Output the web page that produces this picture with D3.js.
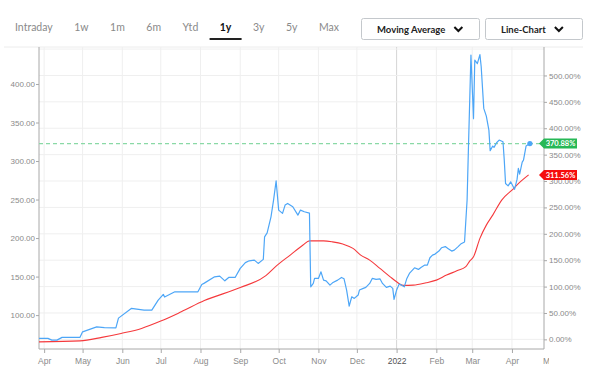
<!DOCTYPE html>
<html>
<head>
<meta charset="utf-8">
<script src="https://cdn.jsdelivr.net/npm/d3@7"></script>
<style>
  body { margin: 0; background: #fff; }
  svg { display: block; font-family: Lato, "Open Sans", sans-serif; }
</style>
</head>
<body>
<div id="chart"></div>
<script>
const ranges = ['Intraday', '1w', '1m', '6m', 'Ytd', '1y', '3y', '5y', 'Max'];
const activeRange = '1y';
const menus = ['Moving Average', 'Line-Chart'];

const priceDates = [
  '2021-03-28', '2021-04-04', '2021-04-07', '2021-04-11', '2021-04-15', '2021-04-29',
  '2021-05-01', '2021-05-12', '2021-05-18', '2021-05-27', '2021-05-29', '2021-06-08',
  '2021-06-18', '2021-06-24', '2021-06-29', '2021-07-03', '2021-07-04', '2021-07-12',
  '2021-07-30', '2021-08-02', '2021-08-04', '2021-08-12', '2021-08-16', '2021-08-20',
  '2021-08-23', '2021-08-28', '2021-09-01', '2021-09-05', '2021-09-08', '2021-09-12',
  '2021-09-15', '2021-09-19', '2021-09-20', '2021-09-22', '2021-09-25', '2021-09-27',
  '2021-09-29', '2021-10-01', '2021-10-04', '2021-10-06', '2021-10-08', '2021-10-12',
  '2021-10-16', '2021-10-18', '2021-10-21', '2021-10-25', '2021-10-26', '2021-10-28',
  '2021-10-29', '2021-11-01', '2021-11-03', '2021-11-05', '2021-11-07', '2021-11-10',
  '2021-11-12', '2021-11-16', '2021-11-19', '2021-11-21', '2021-11-23', '2021-11-25',
  '2021-11-27', '2021-11-29', '2021-12-02', '2021-12-03', '2021-12-06', '2021-12-08',
  '2021-12-11', '2021-12-13', '2021-12-16', '2021-12-19', '2021-12-21', '2021-12-24',
  '2021-12-27', '2021-12-29', '2021-12-30', '2022-01-01', '2022-01-03', '2022-01-05',
  '2022-01-07', '2022-01-09', '2022-01-11', '2022-01-15', '2022-01-18', '2022-01-20',
  '2022-01-23', '2022-01-25', '2022-01-27', '2022-01-29', '2022-01-31', '2022-02-03',
  '2022-02-05', '2022-02-08', '2022-02-10', '2022-02-13', '2022-02-15', '2022-02-18',
  '2022-02-20', '2022-02-23', '2022-02-25', '2022-02-26', '2022-02-28', '2022-03-02',
  '2022-03-03', '2022-03-05', '2022-03-07', '2022-03-08', '2022-03-10', '2022-03-12',
  '2022-03-14', '2022-03-15', '2022-03-17', '2022-03-18', '2022-03-20', '2022-03-22',
  '2022-03-25', '2022-03-26', '2022-03-27', '2022-03-29', '2022-03-31', '2022-04-03',
  '2022-04-05', '2022-04-06', '2022-04-07', '2022-04-09', '2022-04-10', '2022-04-12',
  '2022-04-15'
];
const priceValues = [
  69.8, 69.8, 67.5, 67.5, 71.1, 71.1,
  78.3, 84.8, 83.8, 83.5, 96.1, 108.7,
  106.5, 106.5, 119.5, 126.9, 123.4, 130.2,
  130.2, 139.8, 141.5, 149.7, 150.6, 144.5,
  148.9, 148.9, 160.6, 168.1, 170.5, 171.4,
  167.1, 172.3, 201.6, 206.8, 227.6, 249.3,
  274.3, 236.3, 232.0, 242.8, 245.0, 240.6,
  229.8, 236.3, 234.1, 232.4, 136.7, 141.1,
  147.6, 147.6, 156.2, 145.4, 144.5, 138.9,
  141.9, 145.4, 148.9, 147.1, 132.5, 111.7,
  123.8, 121.7, 126.0, 132.5, 134.7, 136.0,
  141.1, 147.6, 146.3, 147.1, 141.1, 136.0,
  137.6, 134.7, 120.4, 132.5, 140.2, 138.9,
  136.7, 147.6, 154.1, 161.4, 159.3, 161.9,
  164.9, 164.9, 174.4, 177.9, 179.2, 183.1,
  187.4, 188.9, 186.6, 183.1, 184.4, 188.9,
  192.2, 194.8, 249.3, 314.2, 437.5, 355.0,
  431.0, 426.4, 438.1, 422.3, 368.3, 358.3,
  340.1, 313.5, 319.4, 317.7, 323.7, 327.2,
  325.0, 301.2, 270.9, 267.8, 273.0, 263.3,
  276.5, 290.4, 283.0, 298.6, 301.2, 319.4,
  322.6
];

const avgDates = [
  '2021-03-28', '2021-04-29', '2021-05-16', '2021-05-31', '2021-06-16', '2021-07-01',
  '2021-07-17', '2021-08-04', '2021-09-01', '2021-09-21', '2021-09-29', '2021-10-10',
  '2021-10-20', '2021-10-25', '2021-11-05', '2021-11-12', '2021-11-20', '2021-11-28',
  '2021-12-04', '2021-12-11', '2021-12-19', '2021-12-27', '2022-01-01', '2022-01-06',
  '2022-01-14', '2022-01-24', '2022-02-01', '2022-02-09', '2022-02-17', '2022-02-24',
  '2022-02-27', '2022-03-02', '2022-03-07', '2022-03-12', '2022-03-17', '2022-03-24',
  '2022-04-01', '2022-04-07', '2022-04-14'
];
const avgValues = [
  65.3, 66.6, 71.1, 76.2, 82.7, 92.2,
  104.3, 118.8, 135.7, 151.3, 163.6, 177.9,
  190.9, 196.4, 196.4, 195.1, 192.2, 186.6,
  177.9, 171.4, 160.6, 149.7, 143.2, 138.6,
  138.9, 141.9, 145.4, 151.9, 157.5, 163.0,
  170.1, 175.7, 199.6, 216.8, 229.8, 249.3,
  262.3, 272.2, 281.96
];

// price the percentage axis is measured from
const basePrice = 68.51;
const leftTicks = [100, 150, 200, 250, 300, 350, 400];
const rightTicks = [0, 50, 100, 150, 200, 250, 300, 350, 400, 450, 500];
const gridPercents = [0, 50, 100, 150, 200, 250, 300, 350, 400, 450, 500, 550];
const xStart = '2021-03-28';
const xEnd = '2022-04-26';
const lastMonthTick = '2022-05-01';

const width = 602;
const height = 370;
const margin = { top: 47, right: 58, bottom: 21, left: 39 };

const parse = d3.utcParse('%Y-%m-%d');
const price = priceDates.map((d, i) => ({ date: parse(d), value: priceValues[i] }));
const avg = avgDates.map((d, i) => ({ date: parse(d), value: avgValues[i] }));
const toPct = (v) => (v / basePrice - 1) * 100;

const svg = d3
  .select('#chart')
  .append('svg')
  .attr('width', width)
  .attr('height', height);

const x = d3
  .scaleUtc()
  .domain([parse(xStart), parse(xEnd)])
  .range([margin.left, width - margin.right]);

const y = d3
  .scaleLinear()
  .domain([56, 448])
  .range([height - margin.bottom, margin.top]);

const yPct = d3
  .scaleLinear()
  .domain(y.domain().map(toPct))
  .range(y.range());

// Top toolbar
const tabs = svg.append('g');
let tx = 15;
ranges.forEach((r) => {
  const t = tabs
    .append('text')
    .attr('x', tx)
    .attr('y', 31)
    .style('font-size', '10.5px')
    .style('fill', r === activeRange ? '#111' : '#8a8a8a')
    .style('font-weight', r === activeRange ? 'bold' : 'normal')
    .text(r);
  const w = t.node().getComputedTextLength();
  if (r === activeRange) {
    tabs
      .append('rect')
      .attr('x', tx + w / 2 - 16)
      .attr('y', 38)
      .attr('width', 32)
      .attr('height', 2)
      .attr('fill', '#222');
  }
  tx += w + 21.5;
});

const menuBoxes = [
  { x: 361, w: 118 },
  { x: 485, w: 97 },
];
menus.forEach((m, i) => {
  const b = menuBoxes[i];
  const g = svg.append('g').attr('transform', `translate(${b.x},18)`);
  g.append('rect')
    .attr('x', 0.5)
    .attr('y', 0.5)
    .attr('width', b.w)
    .attr('height', 21)
    .attr('rx', 2)
    .attr('fill', '#fff')
    .attr('stroke', '#c4c8cc');
  const t = g
    .append('text')
    .attr('x', 16)
    .attr('y', 14.5)
    .style('font-size', '9.5px')
    .style('font-weight', 'bold')
    .style('fill', '#222')
    .text(m);
  const cx = 16 + t.node().getComputedTextLength() + 13;
  g.append('path')
    .attr('d', `M${cx - 4},9 L${cx},13 L${cx + 4},9`)
    .attr('fill', 'none')
    .attr('stroke', '#111')
    .attr('stroke-width', 2);
});

// separator under the toolbar
svg
  .append('line')
  .attr('x1', 4)
  .attr('x2', 583)
  .attr('y1', margin.top)
  .attr('y2', margin.top)
  .attr('stroke', '#ececec');

// Grid
const months = x.ticks(d3.utcMonth.every(1));
svg
  .append('g')
  .selectAll('line')
  .data(months)
  .enter()
  .append('line')
  .attr('x1', (d) => x(d))
  .attr('x2', (d) => x(d))
  .attr('y1', margin.top)
  .attr('y2', height - margin.bottom)
  .attr('stroke', (d) => (d.getUTCMonth() === 0 ? '#d6d6d6' : '#efefef'));

svg
  .append('g')
  .selectAll('line')
  .data(gridPercents)
  .enter()
  .append('line')
  .attr('x1', margin.left)
  .attr('x2', width - margin.right)
  .attr('y1', (d) => yPct(d))
  .attr('y2', (d) => yPct(d))
  .attr('stroke', '#efefef');

// Axes
const axisColor = '#a8a8a8';
const labelColor = '#8a8a8a';

// the month label past the right edge is cut, as in the original widget
svg
  .append('clipPath')
  .attr('id', 'xclip')
  .append('rect')
  .attr('x', 0)
  .attr('y', 0)
  .attr('width', width - margin.right + 5)
  .attr('height', height);

const xAxis = svg
  .append('g')
  .attr('clip-path', 'url(#xclip)')
  .attr('transform', `translate(0,${height - margin.bottom})`)
  .call(
    d3
      .axisBottom(x)
      .tickValues(months.concat([parse(lastMonthTick)]))
      .tickSize(4)
      .tickFormat((d) => (d.getUTCMonth() === 0 ? d3.utcFormat('%Y')(d) : d3.utcFormat('%b')(d)))
  );
xAxis.select('.domain').remove();
xAxis.selectAll('.tick line').attr('stroke', axisColor);
xAxis
  .selectAll('.tick text')
  .attr('dy', '0.95em')
  .style('font-size', '8.5px')
  .style('fill', (d) => (d.getUTCMonth() === 0 ? '#555' : labelColor));

const yAxisL = svg
  .append('g')
  .attr('transform', `translate(${margin.left},0)`)
  .call(d3.axisLeft(y).tickValues(leftTicks).tickSize(3).tickFormat(d3.format('.2f')));
yAxisL.select('.domain').remove();
yAxisL.selectAll('.tick line').attr('stroke', axisColor);
yAxisL
  .selectAll('.tick text')
  .attr('x', -4)
  .style('font-size', '8px')
  .style('fill', labelColor);

const yAxisR = svg
  .append('g')
  .attr('transform', `translate(${width - margin.right},0)`)
  .call(
    d3
      .axisRight(yPct)
      .tickValues(rightTicks)
      .tickSize(3)
      .tickFormat((d) => d3.format('.2f')(d) + '%')
  );
yAxisR.select('.domain').remove();
yAxisR.selectAll('.tick line').attr('stroke', axisColor);
yAxisR
  .selectAll('.tick text')
  .attr('x', 5)
  .style('font-size', '8px')
  .style('fill', labelColor);

// frame lines
svg
  .append('path')
  .attr(
    'd',
    `M${margin.left},${margin.top} V${height - margin.bottom} H${width - margin.right} V${margin.top}`
  )
  .attr('fill', 'none')
  .attr('stroke', axisColor);

// Lines
const last = price[price.length - 1];
const lastAvg = avg[avg.length - 1];

svg
  .append('line')
  .attr('x1', margin.left)
  .attr('x2', width - margin.right)
  .attr('y1', y(last.value))
  .attr('y2', y(last.value))
  .attr('stroke', '#8ad9a6')
  .attr('stroke-width', 1.2)
  .attr('stroke-dasharray', '4,3');

const line = d3
  .line()
  .x((d) => x(d.date))
  .y((d) => y(d.value));

svg
  .append('path')
  .datum(avg)
  .attr('fill', 'none')
  .attr('stroke', '#f5393c')
  .attr('stroke-width', 1.1)
  .attr('d', line.curve(d3.curveMonotoneX));

svg
  .append('path')
  .datum(price)
  .attr('fill', 'none')
  .attr('stroke', '#4da6f7')
  .attr('stroke-width', 1.2)
  .attr('stroke-linejoin', 'round')
  .attr('d', line.curve(d3.curveLinear));

svg
  .append('circle')
  .attr('cx', x(last.date))
  .attr('cy', y(last.value))
  .attr('r', 2.6)
  .attr('fill', '#4da6f7');

// value tags on the right axis
function addTag(value, color) {
  const ty = y(value);
  const x0 = width - margin.right - 5;
  const g = svg.append('g').attr('transform', `translate(${x0},${ty})`);
  g.append('path')
    .attr('d', 'M0,0 L5,-5 H38 V5 H5 Z')
    .attr('fill', color);
  g.append('text')
    .attr('x', 21.5)
    .attr('y', 0)
    .attr('dy', '0.35em')
    .attr('text-anchor', 'middle')
    .style('font-size', '7.5px')
    .style('font-weight', 'bold')
    .style('fill', '#fff')
    .text(d3.format('.2f')(toPct(value)) + '%');
}
addTag(last.value, '#27b856');
addTag(lastAvg.value, '#f50d0d');
</script>
</body>
</html>
